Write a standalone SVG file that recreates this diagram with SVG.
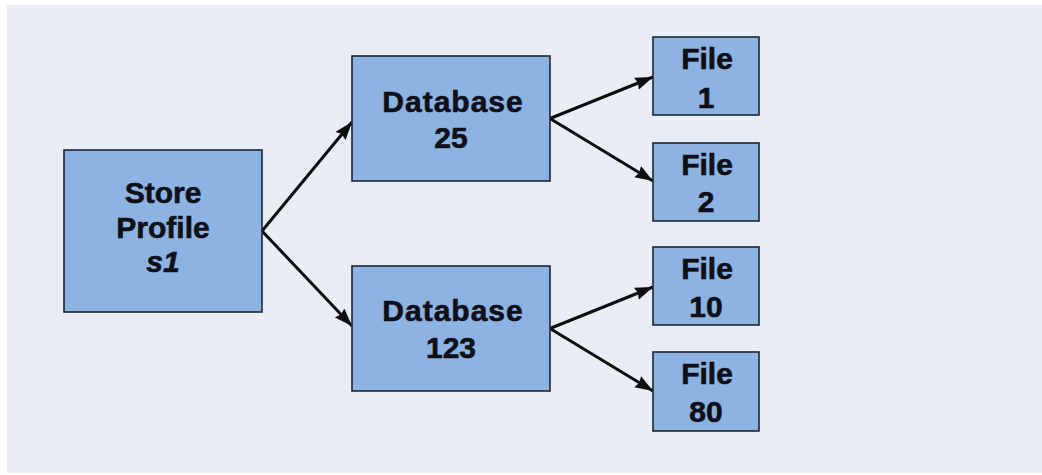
<svg xmlns="http://www.w3.org/2000/svg" width="1042" height="475" viewBox="0 0 1042 475">
<defs>
<marker id="ah" markerUnits="userSpaceOnUse" markerWidth="20" markerHeight="14" refX="18" refY="6.5" orient="auto">
<path d="M0,0 L18,6.5 L0,13 L2,6.5 Z" fill="#0d0d0d"/>
</marker>
<style>
.box{fill:#8DB3E2;stroke:#1f2530;stroke-width:1.6}
.t{font-family:"Liberation Sans",Arial,sans-serif;font-weight:bold;font-size:30px;fill:#0f0f18;stroke:#0f0f18;stroke-width:0.6;text-anchor:middle}
.db{letter-spacing:1px}
.c{stroke:#0d0d0d;stroke-width:3;fill:none;marker-end:url(#ah)}
</style>
</defs>
<rect x="0" y="0" width="1042" height="475" fill="#ffffff"/>
<rect x="7" y="5" width="1035" height="468" fill="#E9EDF5"/>
<g id="connectors">
<line class="c" x1="262" y1="231" x2="352" y2="122"/>
<line class="c" x1="262" y1="231" x2="352" y2="326"/>
<line class="c" x1="550" y1="118.5" x2="653" y2="77"/>
<line class="c" x1="550" y1="118.5" x2="653" y2="181"/>
<line class="c" x1="550" y1="328.5" x2="653" y2="287"/>
<line class="c" x1="550" y1="328.5" x2="653" y2="391"/>
</g>
<g id="store">
<rect class="box" x="64" y="150" width="198" height="162"/>
<text class="t" x="163" y="203">Store</text>
<text class="t" x="163" y="238">Profile</text>
<text class="t" x="163" y="272" font-style="italic">s1</text>
</g>
<g id="db25">
<rect class="box" x="352" y="56" width="198" height="125"/>
<text class="t db" x="453" y="111.5">Database</text>
<text class="t" x="451" y="147.5">25</text>
</g>
<g id="db123">
<rect class="box" x="352" y="266" width="198" height="125"/>
<text class="t db" x="453" y="321">Database</text>
<text class="t" x="451" y="357.5">123</text>
</g>
<g id="file1">
<rect class="box" x="653" y="37" width="106" height="78"/>
<text class="t" x="707" y="68.5">File</text>
<text class="t" x="706" y="107.5">1</text>
</g>
<g id="file2">
<rect class="box" x="653" y="143" width="106" height="78"/>
<text class="t" x="707" y="175">File</text>
<text class="t" x="706" y="212">2</text>
</g>
<g id="file10">
<rect class="box" x="653" y="247" width="106" height="78"/>
<text class="t" x="707" y="278.5">File</text>
<text class="t" x="706" y="317">10</text>
</g>
<g id="file80">
<rect class="box" x="653" y="352" width="106" height="79"/>
<text class="t" x="707" y="384">File</text>
<text class="t" x="706" y="422">80</text>
</g>
</svg>
